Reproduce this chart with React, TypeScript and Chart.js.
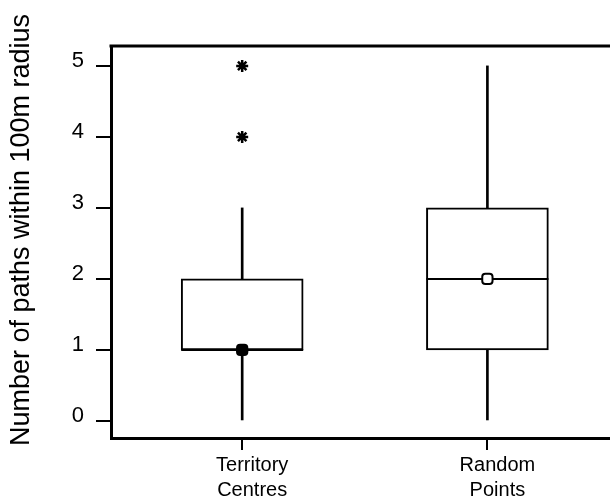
import React, { useEffect, useRef } from 'react';
import { Chart, registerables } from 'chart.js';

Chart.register(...registerables);

const categoryLines = [['Territory', 'Centres'], ['Random', 'Points']];
const categoryPositions = [1, 2];
const q1 = [1, 1];
const medians = [1, 2];
const q3 = [2, 3];
const whiskerLow = [0, 0];
const whiskerHigh = [3, 5];
const means = [1, 2];
const outliers = [[4, 5], []];
const yTicks = [0, 1, 2, 3, 4, 5];
const yTitle = 'Number of paths within 100m radius';

const FONT = '"Liberation Sans", Arial, sans-serif';

const framePlugin = {
  id: 'frame',
  afterDraw(chart: any) {
    const { ctx, chartArea } = chart;
    ctx.save();
    ctx.strokeStyle = '#000';
    ctx.lineWidth = 3;
    ctx.beginPath();
    ctx.moveTo(chartArea.left - 1.5, chartArea.top);
    ctx.lineTo(chartArea.right, chartArea.top);
    ctx.stroke();
    ctx.translate(22, 230);
    ctx.rotate(-Math.PI / 2);
    ctx.font = '27px ' + FONT;
    ctx.textAlign = 'center';
    ctx.textBaseline = 'middle';
    ctx.fillStyle = '#000';
    ctx.fillText(yTitle, 0, 0);
    ctx.restore();
  },
};

export default function App() {
  const ref = useRef<HTMLCanvasElement | null>(null);

  useEffect(() => {
    if (!ref.current) return;
    const outlierPoints = outliers.flatMap((arr, i) =>
      arr.map((v) => ({ x: categoryPositions[i], y: v }))
    );
    const chart = new Chart(ref.current, {
      type: 'bar',
      data: {
        datasets: [
          {
            type: 'scatter',
            label: 'mean',
            data: means.map((v, i) => ({ x: categoryPositions[i], y: v })),
            pointStyle: ['rectRounded', 'rectRounded'],
            backgroundColor: ['#000', '#fff'],
            borderColor: '#000',
            borderWidth: 2,
            pointRadius: 6,
          } as any,
          {
            type: 'scatter',
            label: 'outliers',
            data: outlierPoints,
            pointStyle: 'star',
            borderColor: '#000',
            backgroundColor: '#000',
            borderWidth: 2.5,
            pointRadius: 6,
          } as any,
          {
            type: 'scatter',
            label: 'median',
            data: medians.map((v, i) => ({ x: categoryPositions[i], y: v })),
            pointStyle: 'line',
            borderColor: '#000',
            borderWidth: 2,
            pointRadius: 61,
          } as any,
          {
            type: 'bar',
            label: 'box',
            data: q1.map((v, i) => ({ x: categoryPositions[i], y: [v, q3[i]] })),
            backgroundColor: '#fff',
            borderColor: '#000',
            borderWidth: 2,
            borderSkipped: false,
            barThickness: 122,
            grouped: false,
          } as any,
          {
            type: 'bar',
            label: 'lowerWhisker',
            data: whiskerLow.map((v, i) => ({ x: categoryPositions[i], y: [v, q1[i]] })),
            backgroundColor: '#000',
            borderWidth: 0,
            barThickness: 2,
            grouped: false,
          } as any,
          {
            type: 'bar',
            label: 'upperWhisker',
            data: whiskerHigh.map((v, i) => ({ x: categoryPositions[i], y: [q3[i], v] })),
            backgroundColor: '#000',
            borderWidth: 0,
            barThickness: 2,
            grouped: false,
          } as any,
        ],
      },
      options: {
        animation: false,
        responsive: false,
        layout: { autoPadding: false, padding: { top: 46, left: 0, right: 0, bottom: 0 } },
        plugins: { legend: { display: false }, tooltip: { enabled: false } },
        scales: {
          x: {
            type: 'linear',
            offset: false,
            min: 0.465,
            max: 2.5,
            afterBuildTicks: (s: any) => {
              s.ticks = categoryPositions.map((v) => ({ value: v }));
            },
            afterFit: (s: any) => {
              s.height = 62;
              s.paddingLeft = 0;
              s.paddingRight = 0;
            },
            ticks: {
              callback: (v: any) => {
                const i = categoryPositions.indexOf(Number(v));
                return i >= 0 ? categoryLines[i] : '';
              },
              font: { size: 20, family: FONT, lineHeight: 1.25 },
              color: '#000',
              padding: 3,
              labelOffset: 10,
              maxRotation: 0,
              autoSkip: false,
            },
            grid: { drawOnChartArea: false, tickLength: 12, lineWidth: 2, color: '#000', offset: false },
            border: { width: 3, color: '#000' },
          },
          y: {
            type: 'linear',
            min: -0.24,
            max: 5.28,
            afterBuildTicks: (s: any) => {
              s.ticks = yTicks.map((v) => ({ value: v }));
            },
            afterFit: (s: any) => {
              s.width = 111;
              s.paddingTop = 0;
              s.paddingBottom = 0;
            },
            ticks: {
              font: { size: 22, family: FONT },
              color: '#000',
              padding: 12,
              labelOffset: -5,
            },
            grid: { drawOnChartArea: false, tickLength: 15, lineWidth: 2, color: '#000' },
            border: { width: 3, color: '#000' },
          },
        },
      },
      plugins: [framePlugin],
    } as any);
    return () => chart.destroy();
  }, []);

  return (
    <div style={{ position: 'absolute', left: 0, top: 0, width: 610, height: 500, background: '#fff' }}>
      <canvas ref={ref} width={610} height={500} style={{ display: 'block' }} />
    </div>
  );
}
